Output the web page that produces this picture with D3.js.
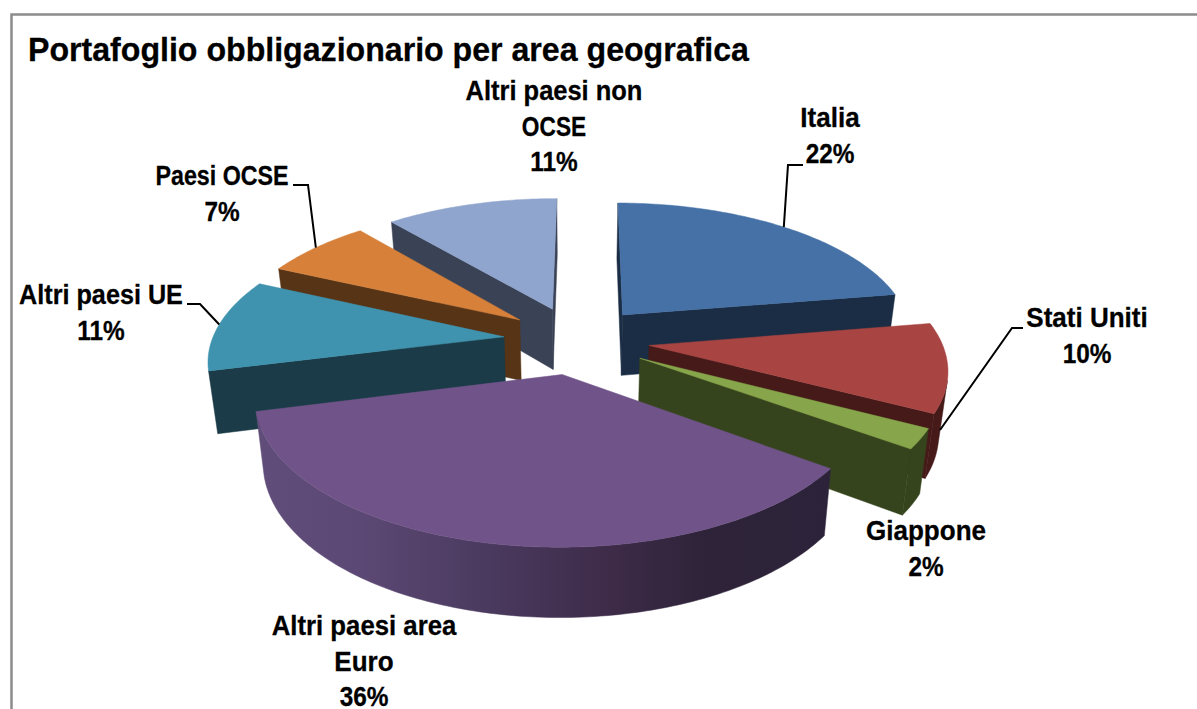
<!DOCTYPE html>
<html><head><meta charset="utf-8">
<script src="https://cdn.jsdelivr.net/npm/d3@7"></script>
<style>html,body{margin:0;padding:0;background:#fff;overflow:hidden}
text{font-family:"Liberation Sans",Arial,sans-serif;font-weight:700;fill:#000;stroke:#000;stroke-width:0.3}</style>
</head><body><svg id="c" width="1197" height="709"></svg>
<script>
const categories = ["Italia","Stati Uniti","Giappone","Altri paesi area Euro","Altri paesi UE","Paesi OCSE","Altri paesi non OCSE"];
const values = [22.3,10.3,2.3,36.1,10.8,7.0,11.2];
const topColors = ["#4571A6","#A84442","#87A64B","#705489","#3F93AE","#D6803A","#8FA5CD"];
const wallColors = ["#1A2D44","#451A18","#36441E","#2C2139","#1A3B47","#573416","#3A4255"];
const titleText = "Portafoglio obbligazionario per area geografica";

// layout: label lines & anchors, horizontal fit, leader knees (separate from data)
const labelLines = [["Italia"],["Stati Uniti"],["Giappone"],["Altri paesi area","Euro"],["Altri paesi UE"],["Paesi OCSE"],["Altri paesi non","OCSE"]];
const labelFit = [[0.93],[0.93],[0.93],[0.92,0.93],[0.9],[0.83],[0.91,0.81]];
const labelPos = [[830,127],[1087,327],[926,540],[364,635],[101,304],[222,185],[554,100]];
const leaders = [[[803,165],[788,165]],[[1023,328],[1012,328]],null,null,[[187,304],[200,304]],[[293,185],[308,185]],null];
const leaderEnd = [null,[940,430],null,null,null,null,null];

const W=1197,H=709,cx=576.5,cy=340,R=292,Ry=135.5,K=0.149,D=61.5,EXPL=0.25,TAPER=0.025,FS=28,PCT_FIT=0.87,LH=35.5;
const svg=d3.select("#c");

const uScale=d3.scaleLinear().domain([-1,1]).range([-R,R]);
const vScale=d3.scaleLinear().domain([-1,1]).range([-Ry,Ry]);
function project(u,v,z){
  const s=1/(1-K*v), t=1-TAPER*z;
  return [cx+uScale(u)*s*t, cy+vScale(v)*s*t+D*s*z];
}
const line=d3.line();

const arcs=d3.pie().sort(null).startAngle(0.005).endAngle(2*Math.PI+0.005)(values);
const slices=arcs.map((a,i)=>{
  const mid=(a.startAngle+a.endAngle)/2;
  const ox=EXPL*Math.sin(mid), oy=-EXPL*Math.cos(mid);
  const n=Math.max(8,Math.ceil((a.endAngle-a.startAngle)*60));
  const angs=d3.range(n+1).map(j=>a.startAngle+(a.endAngle-a.startAngle)*j/n);
  const rim=angs.map(t=>[ox+Math.sin(t),oy-Math.cos(t)]);
  return {i,ox,oy,mid,rim};
});

const defs=svg.append("defs");
const grad=defs.append("linearGradient").attr("id","rimGrad").attr("gradientUnits","userSpaceOnUse")
  .attr("x1",257).attr("x2",832).attr("y1",0).attr("y2",0);
[[0,"#604d7a"],[0.18,"#5c4874"],[0.4,"#4a3a5f"],[0.6,"#3f2c4a"],[0.78,"#2e2339"],[1,"#2c233a"]].forEach(d=>grad.append("stop").attr("offset",d[0]).attr("stop-color",d[1]));

svg.append("rect").attr("width",W).attr("height",H).attr("fill","#fff");
svg.append("path").attr("d","M11.5,709V14.5H1197").attr("fill","none").attr("stroke","#8c8c8c").attr("stroke-width",2.5);

const order=[6,0,5,1,4,2,3];
order.forEach(i=>{
  const S=slices[i], g=svg.append("g").attr("class","slice");
  const wall=wallColors[i], apexT=project(S.ox,S.oy,0), apexB=project(S.ox,S.oy,1);
  const top=S.rim.map(p=>project(p[0],p[1],0)), bot=S.rim.map(p=>project(p[0],p[1],1));
  const last=top.length-1;
  const quad=(a,b,c,d,f)=>{const q=[a,b,c,d];
    if(d3.polygonArea(q)<0) g.append("path").attr("d",line(q)+"Z").attr("fill",f).attr("stroke",f).attr("stroke-width",0.5);};
  quad(top[0],apexT,apexB,bot[0],wall);
  quad(apexT,top[last],bot[last],apexB,wall);
  const vis=d3.range(last).filter(j=>d3.polygonArea([top[j+1],top[j],bot[j],bot[j+1]])<0);
  if(vis.length){
    const a=vis[0], b=vis[vis.length-1]+1;
    const pts=top.slice(a,b+1).concat(bot.slice(a,b+1).reverse());
    g.append("path").attr("d",line(pts)+"Z")
      .attr("fill",i===3?"url(#rimGrad)":wall).attr("stroke",i===3?"url(#rimGrad)":wall).attr("stroke-width",0.5);
  }
  g.append("path").attr("d",line([apexT,...top])+"Z").attr("fill",topColors[i]).attr("stroke",topColors[i]).attr("stroke-width",0.5);
});

leaders.forEach((k,i)=>{
  if(!k) return;
  const S=slices[i];
  const end=leaderEnd[i]||project(S.ox+Math.sin(S.mid),S.oy-Math.cos(S.mid),0);
  svg.append("path").attr("d",line([...k,end])).attr("fill","none").attr("stroke","#000").attr("stroke-width",2);
});

function label(t,x,y,fs,sx,anchor){
  svg.append("text").attr("transform",`translate(${x},${y}) scale(${sx},1)`).attr("text-anchor",anchor).attr("font-size",fs).text(t);
}
label(titleText,28,61,34,0.945,"start");
const total=d3.sum(values);
labelLines.forEach((ls,i)=>{
  const pct=Math.round(values[i]/total*100)+"%";
  ls.forEach((t,j)=>label(t,labelPos[i][0],labelPos[i][1]+j*LH,FS,labelFit[i][j],"middle"));
  label(pct,labelPos[i][0],labelPos[i][1]+ls.length*LH,FS,PCT_FIT,"middle");
});
</script></body></html>
